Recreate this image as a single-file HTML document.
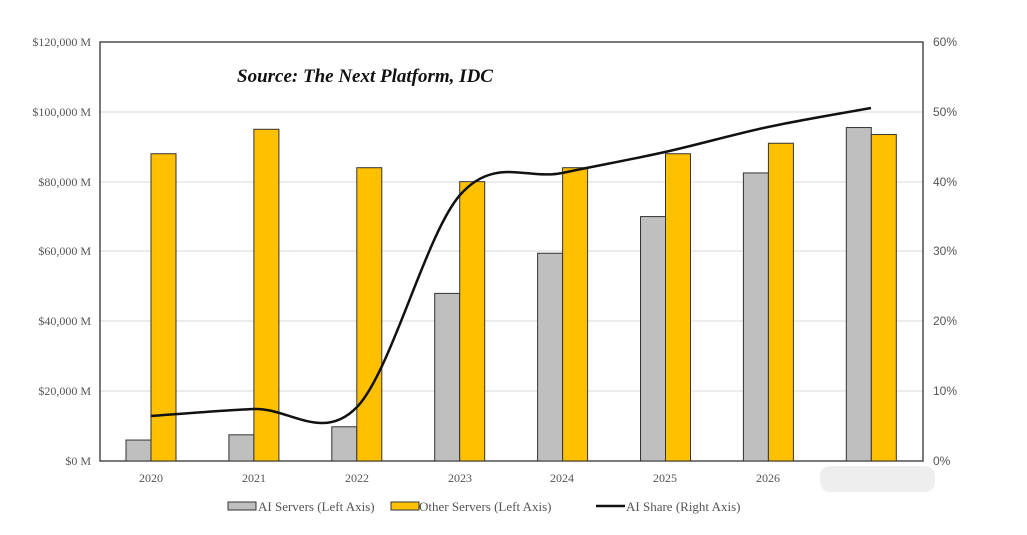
<!DOCTYPE html>
<html><head><meta charset="utf-8"><style>
body{margin:0;background:#fff;width:1027px;height:530px;overflow:hidden}
svg text{font-family:"Liberation Serif",serif;fill:#555}
</style></head><body>
<svg width="1027" height="530" xmlns="http://www.w3.org/2000/svg">
<g stroke="#d9d9d9" stroke-width="1">
<line x1="100" x2="923" y1="112" y2="112"/><line x1="100" x2="923" y1="182" y2="182"/>
<line x1="100" x2="923" y1="251" y2="251"/><line x1="100" x2="923" y1="321" y2="321"/>
<line x1="100" x2="923" y1="391" y2="391"/><line x1="100" x2="923" y1="461" y2="461"/>
</g>
<rect x="100" y="42" width="823" height="419" fill="none" stroke="#333" stroke-width="1.3"/>
<g font-size="12" text-anchor="end">
<text x="91" y="46">$120,000 M</text><text x="91" y="116">$100,000 M</text>
<text x="91" y="186">$80,000 M</text><text x="91" y="255">$60,000 M</text>
<text x="91" y="325">$40,000 M</text><text x="91" y="395">$20,000 M</text>
<text x="91" y="465">$0 M</text>
</g>
<g font-size="12" font-family="Liberation Sans" text-anchor="start">
<text x="933" y="46" style="font-family:'Liberation Sans',sans-serif">60%</text>
<text x="933" y="116" style="font-family:'Liberation Sans',sans-serif">50%</text>
<text x="933" y="186" style="font-family:'Liberation Sans',sans-serif">40%</text>
<text x="933" y="255" style="font-family:'Liberation Sans',sans-serif">30%</text>
<text x="933" y="325" style="font-family:'Liberation Sans',sans-serif">20%</text>
<text x="933" y="395" style="font-family:'Liberation Sans',sans-serif">10%</text>
<text x="933" y="465" style="font-family:'Liberation Sans',sans-serif">0%</text>
</g>
<g id="bars" stroke="#333" stroke-width="1"></g>
<path id="ln" fill="none" stroke="#111" stroke-width="2.5"/>
<g font-size="12" text-anchor="middle">
<text x="151" y="482">2020</text><text x="254" y="482">2021</text><text x="357" y="482">2022</text>
<text x="460" y="482">2023</text><text x="562" y="482">2024</text><text x="665" y="482">2025</text>
<text x="768" y="482">2026</text>
</g>
<rect x="820" y="466" width="115" height="26" rx="10" fill="#eee"/>
<text x="237" y="82" font-size="19" font-weight="bold" font-style="italic" style="fill:#111">Source: The Next Platform, IDC</text>
<g font-size="13">
<rect x="228" y="502" width="28" height="8" fill="#bfbfbf" stroke="#333"/><text x="258" y="511">AI Servers (Left Axis)</text>
<rect x="391" y="502" width="28" height="8" fill="#ffc000" stroke="#333"/><text x="419" y="511">Other Servers (Left Axis)</text>
<line x1="596" x2="625" y1="506" y2="506" stroke="#111" stroke-width="2.5"/><text x="626" y="511">AI Share (Right Axis)</text>
</g>
</svg>
<script>
var g=document.getElementById('bars'),ns='http://www.w3.org/2000/svg';
var gray=[6000,7500,9800,48000,59500,70000,82500,95500],org=[88000,95000,84000,80000,84000,88000,91000,93500];
function y(v){return 461-v/120000*419;}
for(var i=0;i<8;i++){var c=151+i*102.9;
[[c-25,gray[i],'#bfbfbf'],[c,org[i],'#ffc000']].forEach(function(b){var r=document.createElementNS(ns,'rect');
r.setAttribute('x',b[0]);r.setAttribute('y',y(b[1]));r.setAttribute('width',25);r.setAttribute('height',461-y(b[1]));r.setAttribute('fill',b[2]);g.appendChild(r);});}
var p=[[151,416],[254,409],[357,407],[460,195],[562,173],[665,152],[768,127],[871,108]];
var d='M'+p[0];
for(var i=0;i<p.length-1;i++){var p0=p[i-1]||p[i],p1=p[i],p2=p[i+1],p3=p[i+2]||p2;
var c1=[p1[0]+(p2[0]-p0[0])/6,p1[1]+(p2[1]-p0[1])/6],c2=[p2[0]-(p3[0]-p1[0])/6,p2[1]-(p3[1]-p1[1])/6];
d+=' C'+c1+' '+c2+' '+p2;}
document.getElementById('ln').setAttribute('d',d);
</script>
</body></html>
